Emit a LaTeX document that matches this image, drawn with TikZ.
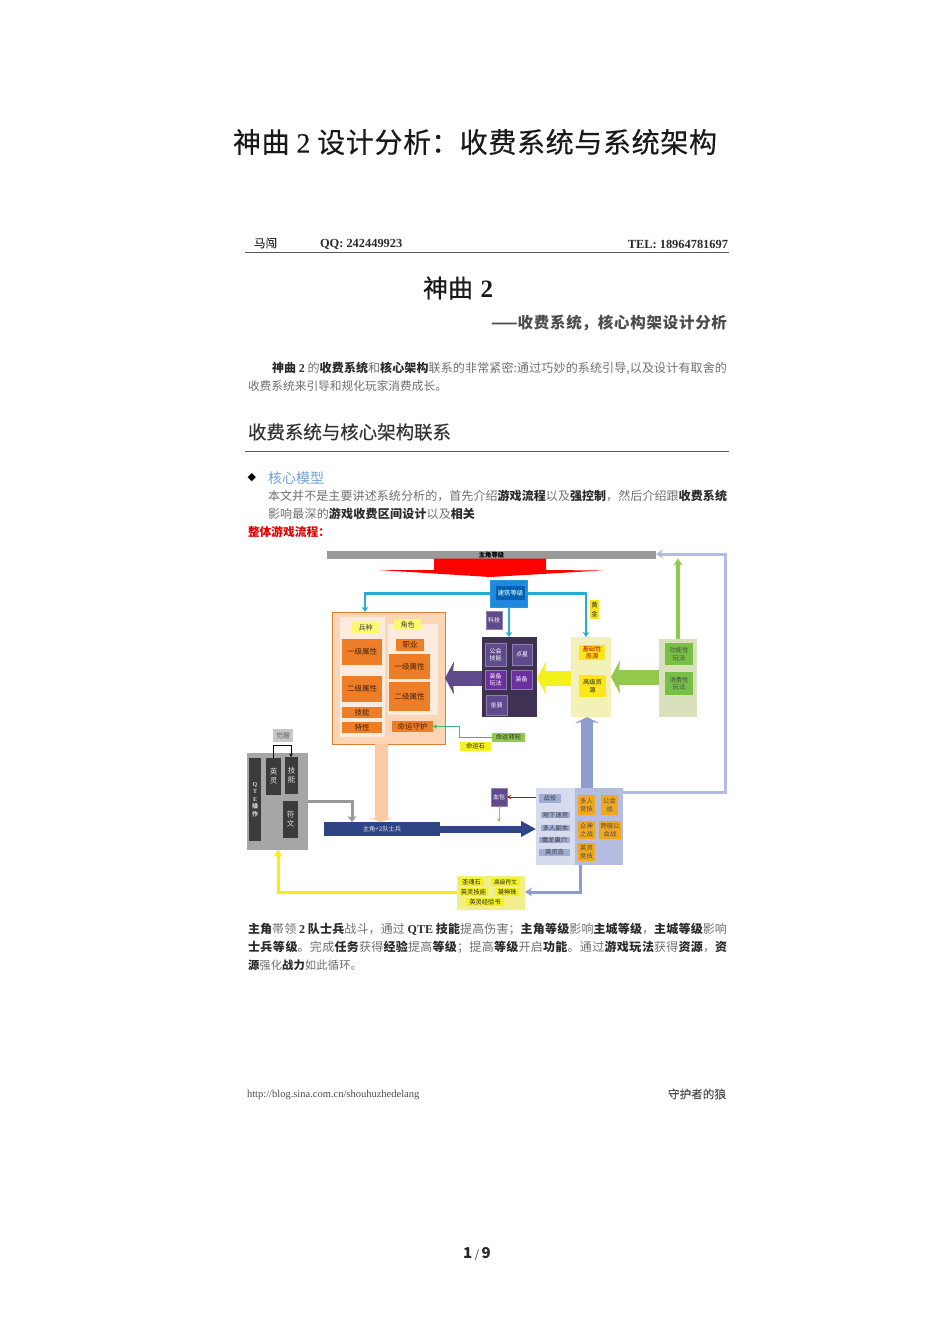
\documentclass[tikz,border=0pt]{standalone}
\usepackage{fontspec}
\usetikzlibrary{arrows.meta,calc}
\setmainfont{Noto Sans CJK SC}
\newfontfamily\lt{Liberation Serif}
\newfontfamily\med[FakeBold=0.35]{Noto Sans CJK SC}
\newfontfamily\ltm[FakeBold=0.35]{Liberation Serif}
\XeTeXlinebreaklocale "zh"
\XeTeXlinebreakskip=0pt plus 4pt minus 0.6pt
\definecolor{gtext}{HTML}{6E6E6E}
\definecolor{dtext}{HTML}{2A2A2A}
\definecolor{pbase}{HTML}{5F4B8B}
\definecolor{pdark}{HTML}{3F3151}
\definecolor{pviolet}{HTML}{6B2FA0}
\definecolor{porange}{HTML}{ED7D26}
\definecolor{ppeach}{HTML}{FBD5B5}
\definecolor{pcyan}{HTML}{29ABD4}
\definecolor{plav}{HTML}{B4BDE0}
\definecolor{pblue}{HTML}{8E9DCC}
\definecolor{navy}{HTML}{2E4484}
\definecolor{pgreen}{HTML}{92C84C}
\definecolor{boxgreen}{HTML}{77C043}
\definecolor{pyellow}{HTML}{F2F21A}
\definecolor{pamber}{HTML}{F0A81E}
\definecolor{panelyel}{HTML}{F4F1B8}
\definecolor{panelgrn}{HTML}{D8E0BC}
\definecolor{panelrew}{HTML}{F2EE8A}
\definecolor{labyel}{HTML}{F5F020}
\definecolor{resyel}{HTML}{FFE61A}
\definecolor{linkblue}{HTML}{6F9FD8}
\definecolor{teal2}{HTML}{3DB878}
\tikzset{
  bxs/.style={rectangle,inner sep=0pt,outer sep=0pt,align=center,font=\fontsize{6.3}{7.4}\selectfont,text=dtext},
  orangebox/.style={fill=porange,text=black!70!porange,font=\fontsize{7.5}{8.5}\selectfont},
  purplebox/.style={fill=pbase,draw=pbase!70!white,line width=.5pt,text=white,font=\fontsize{6}{7.2}\selectfont},
  darkbox/.style={fill=black!77,text=black!15,font=\fontsize{7.5}{9}\selectfont},
  yellowlab/.style={fill=labyel},
  ambbox/.style={fill=pamber,text=black!70},
  lavlab/.style={fill=pblue!85!white,text=black!75},
  greenbox/.style={fill=boxgreen,text=black!70},
  conn/.style={draw,line width=2.2pt,-{Stealth[length=5pt,width=6.5pt]}},
  big/.style={draw,line width=15pt,-{Stealth[length=9pt,width=33pt,inset=1.5pt]}},
  pageline/.style={inner sep=0pt,outer sep=0pt,anchor=west,font=\fontsize{12}{14}\selectfont,text=gtext},
  rulel/.style={draw=black!65,line width=.8pt}
}
\newcommand\nbx[7][]{%
  \pgfmathsetmacro\bxw{#5-#3}\pgfmathsetmacro\bxh{#6-#4}%
  \pgfmathsetmacro\bxx{(#5+#3)/2}\pgfmathsetmacro\bxy{(#6+#4)/2}%
  \node[bxs,minimum width=\bxw pt,minimum height=\bxh pt,#1] (#2) at (\bxx,\bxy) {#7};}
% pline[opts]{name}{x}{y}{width}{text}: one line justified to the given width
\newcommand\pline[6][]{\node[pageline,#1] (#2) at (#3,#4) {\vbox{\hsize=#5pt\parindent=0pt\parfillskip=0pt\tolerance=9999\hbadness=10000\emergencystretch=0pt\rightskip=0pt\leavevmode #6}};}
\newcommand\dk[1]{{\color{dtext}\bfseries #1}}
\newcommand\ltb[1]{{\lt\bfseries\color{dtext} #1}}
\begin{document}
\begin{tikzpicture}[x=1pt,y=-1pt]
\useasboundingbox (0,0) rectangle (950,1344);
% page text
\pline[font=\med\fontsize{28}{32}\selectfont,text=black!90]{title}{233}{142}{484}{神曲 {\ltm 2} 设计分析：收费系统与系统架构}
\pline[font=\med\fontsize{11.5}{13}\selectfont,text=dtext]{hma}{254}{243}{23}{马闯}
\node[pageline,font=\lt\bfseries\fontsize{12.4}{14}\selectfont,text=dtext] (hqq) at (320,244) {QQ: 242449923};
\node[pageline,anchor=east,font=\lt\bfseries\fontsize{12.4}{14}\selectfont,text=dtext] (htel) at (728,244) {TEL: 18964781697};
\draw[rulel] (245,252) coordinate (ra) -- (729,252) coordinate (rb);
\pline[font=\med\fontsize{25}{28}\selectfont,text=black!90]{sub}{423}{288}{70}{神曲\hfil{\lt\bfseries 2}}
\pline[font=\bfseries\fontsize{15.5}{18}\selectfont,text=black!70]{subb}{491}{323}{236}{——收费系统，核心构架设计分析}
\pline{pa}{272}{368}{455}{\dk{神曲 {\lt 2}} 的\dk{收费系统}和\dk{核心架构}联系的非常紧密:通过巧妙的系统引导,以及设计有取舍的}
\pline[font=\fontsize{11.7}{14}\selectfont]{pb}{248}{386}{199}{收费系统来引导和规化玩家消费成长。}
\pline[font=\med\fontsize{18.5}{21}\selectfont,text=black!80]{hd}{248}{432}{203}{收费系统与核心架构联系}
\draw[rulel] (245,451) coordinate (rc) -- (729,451) coordinate (rd);
\node[pageline,font=\fontsize{11}{12}\selectfont,text=black] (bul) at (247.5,478) {\fontspec{DejaVu Sans}◆};
\pline[font=\fontsize{14}{16}\selectfont,text=linkblue]{cm}{268}{478}{56}{核心模型}
\pline{ba}{268}{496}{459}{本文并不是主要讲述系统分析的，首先介绍\dk{游戏流程}以及\dk{强控制}，然后介绍跟\dk{收费系统}}
\pline{bb}{268}{514}{207}{影响最深的\dk{游戏收费区间设计}以及\dk{相关}}
\pline[font=\bfseries\fontsize{11.7}{14}\selectfont,text=red!90!black]{rd1}{248}{532}{82}{整体游戏流程：}
\pline{ca}{248}{929}{479}{\dk{主角}帯领 \ltb{2} \dk{队士兵}战斗，通过 \ltb{QTE} \dk{技能}提高伤害；\dk{主角等级}影响\dk{主城等级}，\dk{主城等级}影响}
\pline{cb}{248}{947}{479}{\dk{士兵等级}。完成\dk{任务}获得\dk{经验}提高\dk{等级}；提高\dk{等级}开启\dk{功能}。通过\dk{游戏玩法}获得\dk{资源}，\dk{资}}
\pline[font=\fontsize{11.3}{14}\selectfont]{cc}{248}{965}{114}{\dk{源}强化\dk{战力}如此循环。}
\node[pageline,font=\lt\fontsize{10.5}{12}\selectfont,text=black!70] (url) at (247,1095) {http://blog.sina.com.cn/shouhuzhedelang};
\pline[font=\med\fontsize{11.5}{13}\selectfont,text=black!70]{wolf}{668}{1094}{58}{守护者的狼}
\node[pageline,anchor=center,font=\bfseries\fontsize{15}{17}\selectfont,text=black!85] (pg) at (477,1254) {1\,{\mdseries\fontsize{11}{13}\selectfont /}\,9};
% top
\nbx[fill=black!40,font=\bfseries\fontsize{6.3}{7}\selectfont,text=black]{lvl}{327}{551}{656}{558.5}{主角等级}
\fill[red] (434,558.5) -- (546,558.5) -- (546,570) -- (602,570.5) -- (490,577) -- (378,570) -- (434,570) -- cycle;
\nbx[fill=pcyan!80!blue,draw=pcyan!90!blue]{bld}{490}{580}{527.5}{607}{}
\nbx[fill=blue!45!cyan!70!black,text=white]{bldi}{496}{586}{525}{600}{建筑等级}
\nbx[purplebox]{tech}{486}{611}{502}{629}{科技}
\nbx[fill=labyel!90!orange]{gold}{590}{600}{599}{619}{黄\\[1pt]金}
% orange
\nbx[fill=ppeach,draw=porange!70!brown,line width=.8pt]{orng}{332}{612}{445}{744}{}
\nbx[fill=ppeach!45!white]{colA}{340}{617}{385}{737}{}
\nbx[fill=ppeach!45!white]{colB}{388}{624}{438}{715}{}
\nbx[fill=yellow!55!white,font=\fontsize{7}{8}\selectfont,text=black!75]{bz}{352}{622}{379}{633}{兵种}
\nbx[fill=yellow!55!white,font=\fontsize{7}{8}\selectfont,text=black!75]{js}{394}{619}{421}{630}{角色}
\nbx[orangebox]{a1}{342}{639}{382}{665}{一级属性}
\nbx[orangebox]{a2}{342}{675.5}{382}{702}{二级属性}
\nbx[orangebox]{a3}{342}{707}{382}{718}{技能}
\nbx[orangebox]{a4}{342}{722}{382}{733}{特性}
\nbx[orangebox]{b0}{396}{639}{424}{651}{职业}
\nbx[orangebox]{b1}{389}{654}{430}{679}{一级属性}
\nbx[orangebox]{b2}{389}{682}{430}{711}{二级属性}
\nbx[orangebox]{b3}{392}{721}{433}{732}{命运守护}
% purple
\nbx[fill=pdark]{dark}{481.5}{637}{537}{716.5}{}
\nbx[purplebox]{d1}{485}{643}{506}{666}{公会\\技能}
\nbx[purplebox]{d2}{512}{644}{532}{665}{点星}
\nbx[purplebox,fill=pviolet]{d3}{485}{670}{506}{689}{装备\\玩法}
\nbx[purplebox,fill=pviolet]{d4}{511}{670}{532}{689}{装备}
\nbx[purplebox]{d5}{486}{695}{507}{715}{坐骑}
% yellow panel
\nbx[fill=panelyel]{res}{571}{637}{611}{717}{}
\nbx[fill=resyel,text=red!75!black]{r1}{579}{645}{605}{660}{基础性\\资源}
\nbx[fill=resyel]{r2}{579}{675}{606}{697}{高级资\\源}
% green panel
\nbx[fill=panelgrn]{grn}{659}{639}{697}{717}{}
\nbx[greenbox]{g1}{665}{643}{693}{665}{功能性\\玩法}
\nbx[greenbox]{g2}{665}{672}{693}{695}{消费性\\玩法}
% destiny
\nbx[fill=labyel]{stone}{460}{742}{491}{751}{命运石}
\nbx[fill=pgreen]{wheel}{492}{733}{525}{742}{命运转轮}
% grey
\nbx[fill=black!35]{gry}{247}{753}{308}{850}{}
\nbx[darkbox,font=\bfseries\fontsize{6}{7.5}\selectfont]{qte}{249}{758}{261}{841}{{\lt Q}\\{\lt T}\\{\lt E}\\操\\作}
\nbx[darkbox]{yl}{266}{758}{281}{795}{英\\灵}
\nbx[darkbox]{jn}{285}{757}{298}{794}{技\\能}
\nbx[darkbox]{fw}{283}{801}{298}{838}{符\\文}
\nbx[fill=black!22,text=black!60,font=\fontsize{7}{8}\selectfont]{jx}{273}{729}{293}{742}{觉醒}
\nbx[fill=navy,text=white!85!navy]{bar}{324}{822}{440}{836}{主角+2队士兵}
% lower right
\nbx[fill=plav!55!white]{pL}{536}{787.5}{575}{864.5}{}
\nbx[fill=plav]{pR}{575}{787.5}{623}{864.5}{}
\nbx[lavlab]{l0}{539}{794}{561}{803}{战役}
\nbx[lavlab]{l1}{541}{812}{570}{818}{地下迷宫}
\nbx[lavlab]{l2}{541}{825}{570}{831}{多人副本}
\nbx[lavlab]{l3}{539}{837}{570}{843}{魔龙巢穴}
\nbx[lavlab]{l4}{539}{849}{570}{856}{英灵岛}
\nbx[ambbox]{o1}{578}{795}{595}{815}{多人\\竞技}
\nbx[ambbox]{o2}{601}{795}{618}{815}{公会\\战}
\nbx[ambbox]{o3}{578}{821}{595}{839}{众神\\之战}
\nbx[ambbox]{o4}{599}{821}{621}{839}{跨服公\\会战}
\nbx[ambbox]{o5}{578}{843}{595}{861}{英灵\\竞技}
\nbx[purplebox]{blood}{491}{788}{507}{806}{血包}
% bottom yellow
\nbx[fill=panelrew]{rew}{457}{876}{525}{910}{}
\nbx[fill=labyel]{y1}{459}{878}{484}{886}{圣魂石}
\nbx[fill=labyel,font=\fontsize{5.7}{6.5}\selectfont]{y2}{491}{878}{520}{886}{高级符文}
\nbx[fill=labyel]{y3}{459}{888}{488}{896}{英灵技能}
\nbx[fill=labyel]{y4}{495}{888}{519}{896}{凝神珠}
\nbx[fill=labyel]{y5}{466}{898}{504}{906}{英灵经验书}
% free-end coordinates
\coordinate (c1) at (365,612);
\coordinate (c2) at (586,637);
\coordinate (c3) at (509,637);
\coordinate (cy) at (0,678);
\coordinate (cg) at (0,677);
\coordinate (cx) at (381,0);
\coordinate (cb) at (587,0);
\coordinate (cl) at (725,554);
\coordinate (cgr) at (352,801);
\coordinate (cq) at (278,892);
\coordinate (cr) at (0,892);
\coordinate (cp) at (580,0);
\coordinate (cu) at (499,822);
\coordinate (ct) at (0,797);
\coordinate (cw) at (459.5,737);
\coordinate (ck1) at (273,745);
\coordinate (ck2) at (291,745);
\coordinate (cgl) at (678,0);
\coordinate (cv) at (0,792);
% connectors
\draw[conn,draw=pcyan] (bld.west) -| (c1);
\draw[conn,draw=pcyan] (bld.east) -| (c2);
\draw[conn,draw=pcyan] (bld.south -| c3) -- (c3);
\draw[big,draw=pbase] (dark.west |- cy) -- (orng.east |- cy);
\draw[big,draw=pyellow] (res.west |- cy) -- (dark.east |- cy);
\draw[big,draw=pgreen] (grn.west |- cg) -- (res.east |- cg);
\draw[draw=pgreen,line width=3.5pt,-{Stealth[length=7pt,width=9pt]}] (grn.north -| cgl) -- (lvl.south -| cgl);
\draw[draw=plav,line width=3pt,-{Stealth[length=7pt,width=9pt]}] (pR.east |- cv) -| (cl) -- (lvl.east |- cl);
\draw[draw=pblue,line width=12pt,-{Stealth[length=6pt,width=24pt,inset=1.5pt]}] (pR.north -| cb) -- (res.south -| cb);
\draw[draw=ppeach!90!orange,line width=13pt,-{Stealth[length=4pt,width=23pt,inset=1pt]}] (orng.south -| cx) -- (bar.north -| cx);
\draw[draw=navy,line width=7pt,-{Stealth[length=15pt,width=15pt,inset=0pt]}] (bar.east) -- (bar.east -| pL.west);
\draw[draw=black!40,line width=3pt,-{Stealth[length=6pt,width=9pt]}] (gry.east |- cgr) -| (cgr |- bar.north);
\draw[draw=yellow!95!orange,line width=3pt,-{Stealth[length=7pt,width=9pt]}] (rew.west |- cr) -| (cq |- gry.south);
\draw[draw=pblue,line width=3pt,-{Stealth[length=7pt,width=9pt]}] (pL.south -| cp) |- (rew.east |- cr);
\draw[draw=red!80!black,line width=1pt,-{Stealth[length=4pt,width=4pt]}] (pL.west |- ct) -- (blood.east |- ct);
\draw[draw=pgreen,line width=1pt,-{Stealth[length=4pt,width=4pt]}] (blood.south -| cu) -- (cu);
\draw[draw=teal2,line width=1.3pt,-{Stealth[length=4pt,width=4.5pt]}] (wheel.west) -- (wheel.west -| cw) |- (b3.east);
\draw[draw=black,line width=1pt,-{Stealth[length=3.5pt,width=3.5pt]}] (yl.north -| ck1) -- (ck1) -- (ck2) -- (jn.north -| ck2);
\end{tikzpicture}
\end{document}
